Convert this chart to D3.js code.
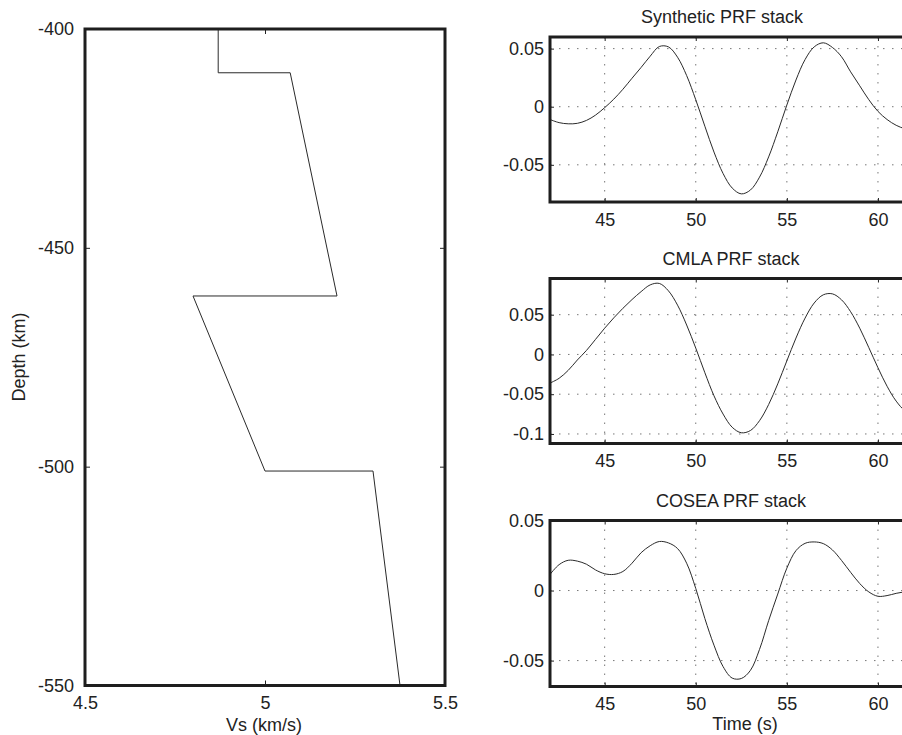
<!DOCTYPE html>
<html>
<head>
<meta charset="UTF-8">
<script src="https://d3js.org/d3.v7.min.js"></script>
<style>
    body { margin: 0; background: white; }
    svg { display: block; font-family: "Liberation Sans", Arial, Helvetica, sans-serif; }
    .tick text { font-size: 18px; fill: #222; }
    .tick line { stroke: #222; }
    .grid line { stroke: #777; stroke-width: 1; stroke-dasharray: 1.5 7.5; }
    .frame { fill: none; stroke: #1e1e1e; stroke-width: 3; }
    .trace { fill: none; stroke: #2a2a2a; stroke-width: 1; }
    .label { font-size: 18px; fill: #222; }
</style>
</head>
<body>
<svg id="fig" width="902" height="735"></svg>
<script>
// ---- data ----
// Vs profile (left panel)
const vsValues = [4.87, 4.87, 5.07, 5.2, 4.8, 5.0, 5.3, 5.375];
const vsDepth = [-400, -410, -410, -461, -461, -501, -501, -550];
const vsTicks = [4.5, 5, 5.5];
const depthTicks = [-400, -450, -500, -550];

// PRF stacks (right panels), sampled every 0.5 s
const time = [42, 42.5, 43, 43.5, 44, 44.5, 45, 45.5, 46, 46.5, 47, 47.5, 48, 48.5, 49, 49.5,
    50, 50.5, 51, 51.5, 52, 52.5, 53, 53.5, 54, 54.5, 55, 55.5, 56, 56.5, 57, 57.5,
    58, 58.5, 59, 59.5, 60, 60.5, 61, 61.5, 62];
const syntheticAmp = [-0.011, -0.0137, -0.0147, -0.0143, -0.0118, -0.0072, -0.0008, 0.0065, 0.015, 0.0245,
    0.0338, 0.0435, 0.0518, 0.0515, 0.0426, 0.0268, 0.006, -0.0168, -0.039, -0.0575,
    -0.070, -0.075, -0.0717, -0.0606, -0.0432, -0.0216, 0.0015, 0.023, 0.0406, 0.0515,
    0.055, 0.051, 0.043, 0.030, 0.018, 0.006, -0.004, -0.011, -0.016, -0.019, -0.020];
const cmlaAmp = [-0.036, -0.030, -0.020, -0.007, 0.005, 0.019, 0.033, 0.046, 0.058, 0.069,
    0.079, 0.0875, 0.0893, 0.080, 0.062, 0.037, 0.008, -0.023, -0.052, -0.075,
    -0.0916, -0.0985, -0.0957, -0.0833, -0.063, -0.037, -0.008, 0.0206, 0.0457, 0.0647,
    0.075, 0.0762, 0.0687, 0.0537, 0.033, 0.0085, -0.0167, -0.040, -0.0587, -0.071, -0.075];
const coseaAmp = [0.0115, 0.0185, 0.0216, 0.021, 0.0188, 0.0147, 0.012, 0.0115, 0.0136, 0.0195,
    0.027, 0.032, 0.035, 0.034, 0.030, 0.0195, 0.0015, -0.020, -0.039, -0.0543,
    -0.0625, -0.0628, -0.057, -0.042, -0.0215, -0.0025, 0.016, 0.0285, 0.0337, 0.0347,
    0.0335, 0.029, 0.0215, 0.013, 0.005, -0.001, -0.0041, -0.0036, -0.002, -0.0008, 0.0];
const timeTicks = [45, 50, 55, 60];
const synTicks = [-0.05, 0, 0.05];
const cmlaTicks = [-0.1, -0.05, 0, 0.05];
const coseaTicks = [-0.05, 0, 0.05];

const svg = d3.select("#fig");
const fmt = d => String(d);

// ---- left panel: Vs vs depth ----
const L = { left: 85, right: 445, top: 29, bottom: 685.5 };
const xVs = d3.scaleLinear().domain([4.5, 5.5]).range([L.left, L.right]);
const yDepth = d3.scaleLinear().domain([-550, -400]).range([L.bottom, L.top]);

svg.append("path")
    .attr("class", "trace")
    .attr("d", d3.line().x(d => xVs(d[0])).y(d => yDepth(d[1]))(d3.zip(vsValues, vsDepth)));

svg.append("g")
    .attr("transform", `translate(0,${L.bottom})`)
    .call(d3.axisBottom(xVs).tickValues(vsTicks).tickSize(-5).tickPadding(11).tickFormat(fmt))
    .call(a => a.select(".domain").remove());
svg.append("g")
    .attr("transform", `translate(0,${L.top})`)
    .call(d3.axisTop(xVs).tickValues(vsTicks).tickSize(-5).tickFormat(""))
    .call(a => a.select(".domain").remove());
svg.append("g")
    .attr("transform", `translate(${L.left},0)`)
    .call(d3.axisLeft(yDepth).tickValues(depthTicks).tickSize(-5).tickPadding(11).tickFormat(fmt))
    .call(a => a.select(".domain").remove());
svg.append("g")
    .attr("transform", `translate(${L.right},0)`)
    .call(d3.axisRight(yDepth).tickValues(depthTicks).tickSize(-5).tickFormat(""))
    .call(a => a.select(".domain").remove());

svg.append("rect").attr("class", "frame")
    .attr("x", L.left).attr("y", L.top)
    .attr("width", L.right - L.left).attr("height", L.bottom - L.top);

svg.append("text").attr("class", "label")
    .attr("x", 264).attr("y", 731)
    .attr("text-anchor", "middle")
    .text("Vs (km/s)");

svg.append("text").attr("class", "label")
    .attr("transform", "translate(24.5,357) rotate(-90)")
    .attr("text-anchor", "middle")
    .text("Depth (km)");

// ---- right panels: PRF stacks ----
const panels = [
    { title: "Synthetic PRF stack", titleX: 722, amp: syntheticAmp, ticks: synTicks,
      yDomain: [-0.082, 0.060], top: 37, bottom: 202 },
    { title: "CMLA PRF stack", titleX: 731, amp: cmlaAmp, ticks: cmlaTicks,
      yDomain: [-0.112, 0.0955], top: 278.5, bottom: 443.5 },
    { title: "COSEA PRF stack", titleX: 731, amp: coseaAmp, ticks: coseaTicks,
      yDomain: [-0.0685, 0.05], top: 520.5, bottom: 686.5 }
];

const R = { left: 550, right: 914.4 };
const xTime = d3.scaleLinear().domain([42, 62]).range([R.left, R.right]);

panels.forEach((p, i) => {
    const y = d3.scaleLinear().domain(p.yDomain).range([p.bottom, p.top]);
    const g = svg.append("g");

    g.append("clipPath").attr("id", "clip" + i)
        .append("rect")
        .attr("x", R.left).attr("y", p.top)
        .attr("width", R.right - R.left).attr("height", p.bottom - p.top);

    // dotted grid
    const grid = g.append("g").attr("class", "grid");
    grid.selectAll(".gx").data(timeTicks).join("line").attr("class", "gx")
        .attr("x1", d => xTime(d)).attr("x2", d => xTime(d))
        .attr("y1", p.top).attr("y2", p.bottom);
    grid.selectAll(".gy").data(p.ticks).join("line").attr("class", "gy")
        .attr("x1", R.left).attr("x2", R.right)
        .attr("y1", d => y(d)).attr("y2", d => y(d));

    g.append("g")
        .attr("transform", `translate(0,${p.bottom})`)
        .call(d3.axisBottom(xTime).tickValues(timeTicks).tickSize(-4).tickPadding(11).tickFormat(fmt))
        .call(a => a.select(".domain").remove());
    g.append("g")
        .attr("transform", `translate(0,${p.top})`)
        .call(d3.axisTop(xTime).tickValues(timeTicks).tickSize(-4).tickFormat(""))
        .call(a => a.select(".domain").remove());
    g.append("g")
        .attr("transform", `translate(${R.left},0)`)
        .call(d3.axisLeft(y).tickValues(p.ticks).tickSize(-4).tickPadding(6).tickFormat(fmt))
        .call(a => a.select(".domain").remove());

    g.append("path")
        .attr("class", "trace")
        .attr("clip-path", `url(#clip${i})`)
        .attr("d", d3.line().x(d => xTime(d[0])).y(d => y(d[1]))
            .curve(d3.curveCatmullRom)(d3.zip(time, p.amp)));

    g.append("rect").attr("class", "frame")
        .attr("x", R.left).attr("y", p.top)
        .attr("width", R.right - R.left).attr("height", p.bottom - p.top);

    g.append("text").attr("class", "label")
        .attr("x", p.titleX).attr("y", p.top - 14)
        .attr("text-anchor", "middle")
        .text(p.title);
});

svg.append("text").attr("class", "label")
    .attr("x", 745).attr("y", 730)
    .attr("text-anchor", "middle")
    .text("Time (s)");
</script>
</body>
</html>
